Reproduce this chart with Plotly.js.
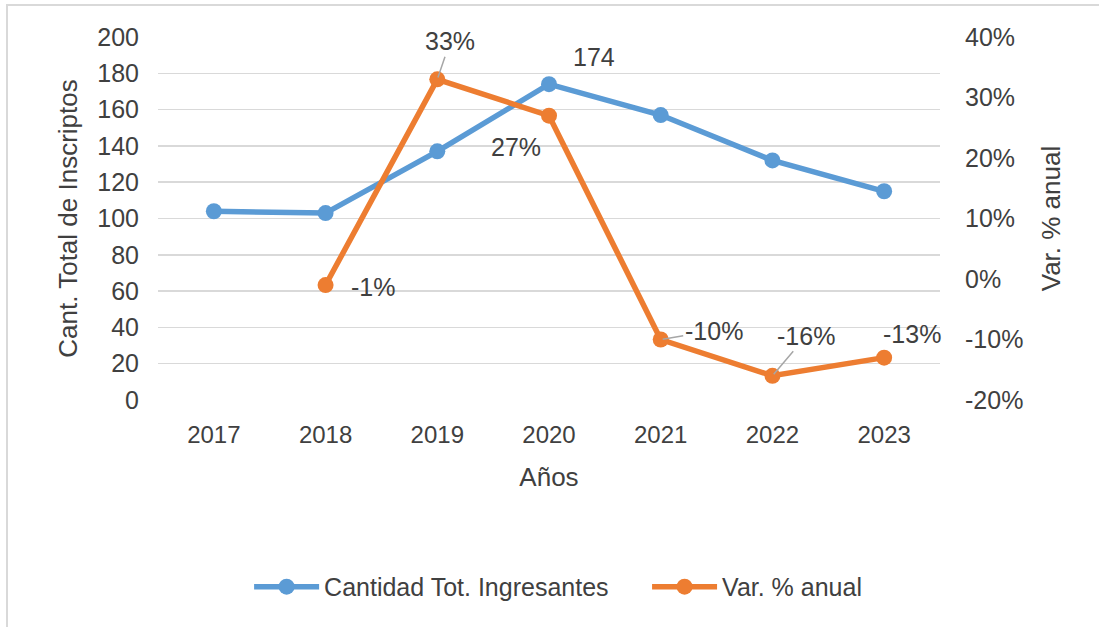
<!DOCTYPE html>
<html>
<head>
<meta charset="utf-8">
<script src="https://cdn.plot.ly/plotly-3.0.1.min.js"></script>
<style>html,body{margin:0;padding:0;background:#fff;}#chart{width:1099px;height:627px;}</style>
</head>
<body>
<div id="chart"></div>
<script>
const years = ['2017','2018','2019','2020','2021','2022','2023'];
const ingresantes = [104, 103, 137, 174, 157, 132, 115];
const varAnual = [null, -0.01, 0.33, 0.27, -0.10, -0.16, -0.13];
const varLabels = [null, '-1%', '33%', '27%', '-10%', '-16%', '-13%'];
const ingresantesLabels = [null, null, null, '174', null, null, null];
const leftTicks = [0, 20, 40, 60, 80, 100, 120, 140, 160, 180, 200];
const rightTickVals = [-0.2, -0.1, 0, 0.1, 0.2, 0.3, 0.4];
const rightTickText = ['-20%', '-10%', '0%', '10%', '20%', '30%', '40%'];

const FONT = 'Liberation Sans, Arial, sans-serif';
const TXT = '#404040';
const BLUE = '#5B9BD5';
const ORANGE = '#ED7D31';

const traces = [
  {
    x: years, y: ingresantes, type: 'scatter', mode: 'lines+markers',
    name: 'Cantidad Tot. Ingresantes', yaxis: 'y', legend: 'legend',
    line: {color: BLUE, width: 5.5},
    marker: {color: BLUE, size: 16}
  },
  {
    x: years, y: varAnual, type: 'scatter', mode: 'lines+markers',
    name: 'Var. % anual', yaxis: 'y2', legend: 'legend2',
    line: {color: ORANGE, width: 5.5},
    marker: {color: ORANGE, size: 16}
  }
];

// label placement (style only)
const varLabelStyle = {
  '2018': {arrow: false, xs: 47, ys: -2},
  '2019': {arrow: true, ax: 13, ay: -38},
  '2020': {arrow: false, xs: -33, ys: -31},
  '2021': {arrow: true, ax: 53, ay: -9},
  '2022': {arrow: true, ax: 34, ay: -40},
  '2023': {arrow: false, xs: 28, ys: 24}
};

const annotations = [];
years.forEach((yr, i) => {
  if (varLabels[i] !== null) {
    const s = varLabelStyle[yr];
    const a = {
      x: i, y: varAnual[i], xref: 'x', yref: 'y2', text: varLabels[i],
      font: {family: FONT, size: 25, color: TXT}
    };
    if (s.arrow) {
      Object.assign(a, {showarrow: true, ax: s.ax, ay: s.ay, arrowhead: 0,
        arrowwidth: 1.5, arrowcolor: '#A6A6A6', standoff: 2});
    } else {
      Object.assign(a, {showarrow: false, xshift: s.xs, yshift: s.ys});
    }
    annotations.push(a);
  }
  if (ingresantesLabels[i] !== null) {
    annotations.push({
      x: i, y: ingresantes[i], xref: 'x', yref: 'y', text: ingresantesLabels[i],
      showarrow: false, xshift: 45, yshift: 27,
      font: {family: FONT, size: 25, color: TXT}
    });
  }
});

const legendBase = {orientation: 'h', xanchor: 'left', y: -0.515, yanchor: 'middle',
  itemwidth: 65, font: {family: FONT, size: 25, color: TXT}, bgcolor: 'rgba(0,0,0,0)'};

const layout = {
  width: 1099, height: 627,
  margin: {l: 158, r: 159, t: 37, b: 227},
  paper_bgcolor: '#fff', plot_bgcolor: '#fff',
  font: {family: FONT, size: 24, color: TXT},
  showlegend: true,
  legend: Object.assign({}, legendBase, {x: 0.1165}),
  legend2: Object.assign({}, legendBase, {x: 0.6254}),
  xaxis: {
    type: 'category', range: [-0.5, 6.5], showgrid: false, zeroline: false,
    showline: false, ticks: '', ticklabelstandoff: 18,
    tickfont: {family: FONT, size: 24, color: TXT},
    title: {text: 'Años', font: {family: FONT, size: 26, color: TXT}, standoff: 20},
    automargin: false
  },
  yaxis: {
    range: [0, 200], tickvals: leftTicks, showgrid: true, gridcolor: '#D9D9D9', gridwidth: 1.5,
    zeroline: false, showline: false, ticks: '', ticklabelstandoff: 18,
    tickfont: {family: FONT, size: 25, color: TXT},
    title: {text: 'Cant. Total de Inscriptos', font: {family: FONT, size: 26, color: TXT}, standoff: 12},
    automargin: false
  },
  yaxis2: {
    overlaying: 'y', side: 'right', range: [-0.2, 0.4], tickvals: rightTickVals, ticktext: rightTickText,
    showgrid: false, zeroline: false, showline: false, ticks: '', ticklabelstandoff: 24,
    tickfont: {family: FONT, size: 25, color: TXT},
    title: {text: 'Var. % anual', font: {family: FONT, size: 26, color: TXT}, standoff: 19},
    automargin: false
  },
  annotations: annotations,
  shapes: [{
    type: 'rect', xref: 'paper', yref: 'paper',
    x0: -0.1931, x1: 1.25, y0: -0.65, y1: 1.088,
    line: {color: '#D9D9D9', width: 2}, fillcolor: 'rgba(0,0,0,0)', layer: 'below'
  }]
};

Plotly.newPlot('chart', traces, layout, {displayModeBar: false, staticPlot: true});
</script>
</body>
</html>
